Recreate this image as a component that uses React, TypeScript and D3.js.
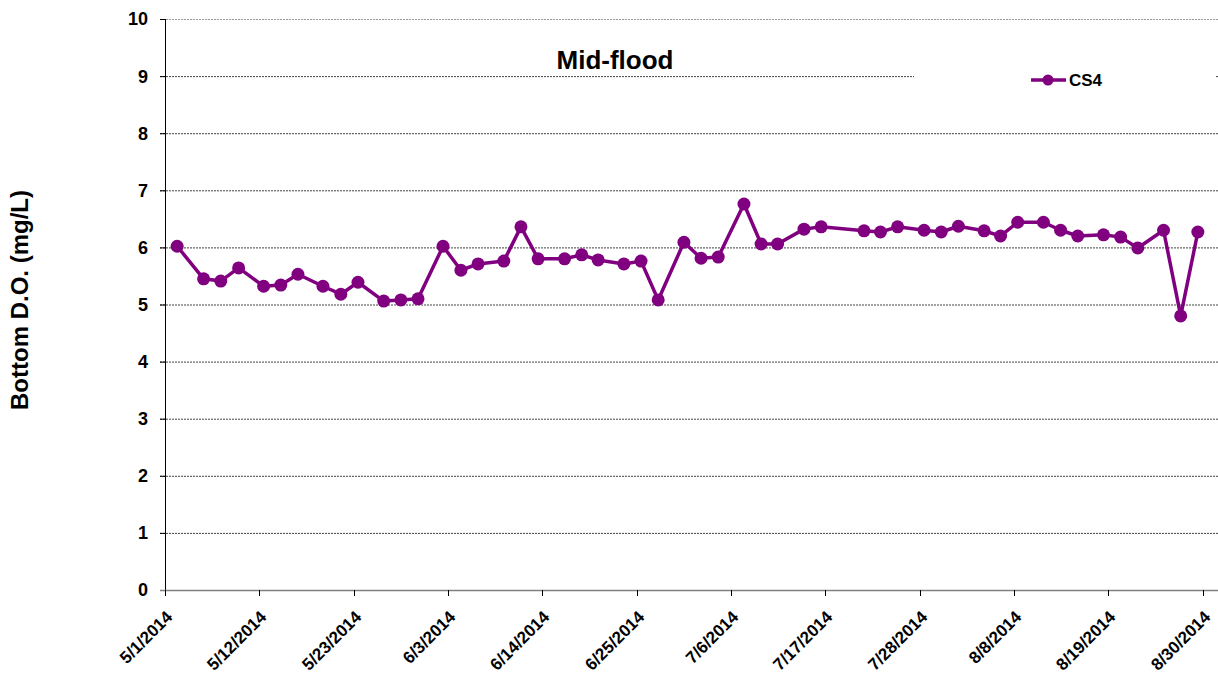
import React from "react";
import * as d3 from "d3";

const sampleTimes: string[] = [
  "2014-05-02T10:00", "2014-05-05T12:00", "2014-05-07T12:00", "2014-05-09T14:00",
  "2014-05-12T12:00", "2014-05-14T12:00", "2014-05-16T12:00", "2014-05-19T10:00",
  "2014-05-21T12:00", "2014-05-23T12:00", "2014-05-26T12:00", "2014-05-28T12:00",
  "2014-05-30T12:00", "2014-06-02T10:00", "2014-06-04T12:00", "2014-06-06T12:00",
  "2014-06-09T12:00", "2014-06-11T12:00", "2014-06-13T12:00", "2014-06-16T14:00",
  "2014-06-18T14:00", "2014-06-20T12:00", "2014-06-23T12:00", "2014-06-25T12:00",
  "2014-06-27T12:00", "2014-06-30T12:00", "2014-07-02T12:00", "2014-07-04T12:00",
  "2014-07-07T12:00", "2014-07-09T12:00", "2014-07-11T10:00", "2014-07-14T12:00",
  "2014-07-16T12:00", "2014-07-21T12:00", "2014-07-23T10:00", "2014-07-25T10:00",
  "2014-07-28T12:00", "2014-07-30T12:00", "2014-08-01T12:00", "2014-08-04T12:00",
  "2014-08-06T10:00", "2014-08-08T10:00", "2014-08-11T10:00", "2014-08-13T10:00",
  "2014-08-15T10:00", "2014-08-18T10:00", "2014-08-20T10:00", "2014-08-22T10:00",
  "2014-08-25T10:00", "2014-08-27T10:00", "2014-08-29T10:00",
];

const cs4Values: number[] = [
  6.02, 5.45, 5.41, 5.64,
  5.32, 5.34, 5.53, 5.32,
  5.18, 5.39, 5.06, 5.08,
  5.10, 6.02, 5.60, 5.71,
  5.76, 6.36, 5.80, 5.80,
  5.87, 5.78, 5.71, 5.76,
  5.08, 6.09, 5.81, 5.83,
  6.76, 6.06, 6.06, 6.32,
  6.36, 6.29, 6.27, 6.36,
  6.30, 6.27, 6.37, 6.29,
  6.20, 6.44, 6.44, 6.30,
  6.20, 6.22, 6.18, 5.99,
  6.30, 4.80, 6.27,
];

const xTickLabels: string[] = [
  "5/1/2014", "5/12/2014", "5/23/2014", "6/3/2014", "6/14/2014", "6/25/2014",
  "7/6/2014", "7/17/2014", "7/28/2014", "8/8/2014", "8/19/2014", "8/30/2014",
];

const yTicks: number[] = [0, 1, 2, 3, 4, 5, 6, 7, 8, 9, 10];

const seriesName = "CS4";
const chartTitle = "Mid-flood";
const yAxisTitle = "Bottom D.O. (mg/L)";

const W = 1218;
const H = 675;
const COLOR = "#800080";
const FONT = "'Liberation Sans', Arial, sans-serif";

const parseT = d3.timeParse("%Y-%m-%dT%H:%M");
const parseTick = d3.timeParse("%m/%d/%Y");

export default function App() {
  const x = d3
    .scaleTime()
    .domain([new Date(2014, 4, 1), new Date(2014, 8, 1)])
    .range([165, 1220]);
  const y = d3.scaleLinear().domain([0, 10]).range([590, 19]);

  const data = sampleTimes.map((t, i) => ({ t: parseT(t) as Date, v: cs4Values[i] }));
  const line = d3
    .line<{ t: Date; v: number }>()
    .x((d) => x(d.t))
    .y((d) => y(d.v));

  const ticks = xTickLabels.map((l) => ({ label: l, d: parseTick(l) as Date }));

  return (
    <svg
      width={W}
      height={H}
      style={{ position: "absolute", left: 0, top: 0, background: "#fff" }}
      fontFamily={FONT}
    >
      <rect x={0} y={0} width={W} height={H} fill="#fff" />
      {/* gridlines */}
      {yTicks.filter((t) => t > 0).map((t) => (
        <line
          key={"g" + t}
          x1={160}
          x2={W}
          y1={y(t) + 0.5}
          y2={y(t) + 0.5}
          stroke={t === 10 ? "#999" : "#444"}
          strokeWidth={1}
          strokeDasharray="2,1"
        />
      ))}
      {/* legend box masks gridline */}
      <rect x={914} y={66} width={301} height={28} fill="#fff" />
      {/* y axis */}
      <line x1={165.5} x2={165.5} y1={y(10)} y2={y(0)} stroke="#000" strokeWidth={1} />
      {yTicks.map((t) => (
        <g key={"y" + t}>
          <line x1={160} x2={165} y1={y(t) + 0.5} y2={y(t) + 0.5} stroke="#000" />
          <text
            x={148}
            y={y(t)}
            dy="0.36em"
            textAnchor="end"
            fontSize={18}
            fontWeight="bold"
          >
            {t}
          </text>
        </g>
      ))}
      {/* x axis */}
      <line x1={160} x2={W} y1={y(0) + 0.5} y2={y(0) + 0.5} stroke="#808080" strokeWidth={1.5} />
      {ticks.map((tk) => {
        const px = Math.round(x(tk.d)) + 0.5;
        return (
          <g key={tk.label}>
            <line x1={px} x2={px} y1={y(0)} y2={y(0) + 6} stroke="#000" />
            <text
              transform={`translate(${px + 8},${y(0) + 28}) rotate(-45)`}
              textAnchor="end"
              fontSize={17}
              fontWeight="bold"
            >
              {tk.label}
            </text>
          </g>
        );
      })}
      {/* series */}
      <path d={line(data) || ""} fill="none" stroke={COLOR} strokeWidth={3.5} strokeLinejoin="round" />
      {data.map((d, i) => (
        <circle key={i} cx={x(d.t)} cy={y(d.v)} r={6.5} fill={COLOR} />
      ))}
      {/* title */}
      <text x={615} y={69} textAnchor="middle" fontSize={26} fontWeight="bold">
        {chartTitle}
      </text>
      {/* legend */}
      <line x1={1031} x2={1066} y1={80} y2={80} stroke={COLOR} strokeWidth={3.5} />
      <circle cx={1048} cy={80} r={5.5} fill={COLOR} />
      <text x={1069} y={80} dy="0.36em" fontSize={17} fontWeight="bold">
        {seriesName}
      </text>
      {/* y axis title */}
      <text
        transform={`translate(28,300) rotate(-90)`}
        textAnchor="middle"
        fontSize={24}
        fontWeight="bold"
      >
        {yAxisTitle}
      </text>
    </svg>
  );
}
